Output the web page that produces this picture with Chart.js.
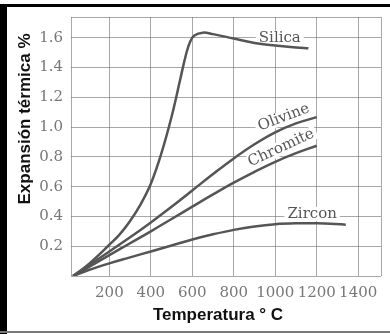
<!DOCTYPE html>
<html>
<head>
<meta charset="utf-8">
<script src="https://cdn.jsdelivr.net/npm/chart.js@4.4.0/dist/chart.umd.min.js"></script>
<style>
  html, body { margin: 0; padding: 0; background: #fff; }
  #wrap { width: 390px; height: 334px; }
</style>
</head>
<body>
<div id="wrap"><canvas id="myChart" width="390" height="334"></canvas></div>
<script>
// temperatures (°C) and expansion (%)
const silicaT = [25, 100, 200, 250, 300, 350, 400, 450, 500, 540, 570, 590, 610, 650, 700, 800, 900, 1000, 1100, 1160];
const silicaV = [0, 0.08, 0.21, 0.28, 0.37, 0.48, 0.62, 0.82, 1.07, 1.31, 1.49, 1.575, 1.615, 1.635, 1.625, 1.595, 1.565, 1.548, 1.535, 1.53];

const olivineT = [25, 100, 200, 300, 400, 500, 600, 700, 800, 900, 1000, 1100, 1200];
const olivineV = [0, 0.07, 0.165, 0.26, 0.36, 0.465, 0.575, 0.685, 0.79, 0.885, 0.965, 1.025, 1.067];

const chromiteT = [25, 100, 200, 300, 400, 500, 600, 700, 800, 900, 1000, 1100, 1200];
const chromiteV = [0, 0.06, 0.14, 0.22, 0.30, 0.383, 0.466, 0.548, 0.627, 0.70, 0.767, 0.825, 0.875];

const zirconT = [25, 100, 200, 300, 400, 500, 600, 700, 800, 900, 1000, 1100, 1200, 1340];
const zirconV = [0, 0.04, 0.085, 0.125, 0.165, 0.205, 0.245, 0.28, 0.31, 0.333, 0.348, 0.354, 0.354, 0.345];

const xTicks = [200, 400, 600, 800, 1000, 1200, 1400];
const yTicks = [0.2, 0.4, 0.6, 0.8, 1.0, 1.2, 1.4, 1.6];

// curve names and where their labels sit (data coords) + rotation in degrees
const names = ['Silica', 'Olivine', 'Chromite', 'Zircon'];
const labelT = [1022, 1041, 1028, 1178];
const labelV = [1.6, 1.065, 0.86, 0.417];
const labelRot = [0, -21, -25, 0];

const xMin = 15, xMax = 1510;
const yMin = 0, yMax = 1.74;

const pts = (t, v) => t.map((x, i) => ({ x: x, y: v[i] }));

const lineStyle = {
    borderColor: '#555',
    borderWidth: 2.5,
    pointRadius: 0,
    fill: false,
    tension: 0.4
};

const data = {
    datasets: [
        { label: names[0], data: pts(silicaT, silicaV), ...lineStyle },
        { label: names[1], data: pts(olivineT, olivineV), ...lineStyle },
        { label: names[2], data: pts(chromiteT, chromiteV), ...lineStyle },
        { label: names[3], data: pts(zirconT, zirconV), ...lineStyle }
    ]
};

const gridColor = 'rgba(110,110,110,0.6)';
const tickFont = { family: 'DejaVu Serif', size: 15 };

// label boxes cut the grid, text goes on top after the curves
function eachLabel(chart, fn) {
    const ctx = chart.ctx;
    const xs = chart.scales.x, ys = chart.scales.y;
    ctx.save();
    ctx.font = '15px "DejaVu Serif"';
    ctx.textAlign = 'center';
    ctx.textBaseline = 'middle';
    names.forEach((n, i) => {
        ctx.save();
        ctx.translate(xs.getPixelForValue(labelT[i]), ys.getPixelForValue(labelV[i]));
        ctx.rotate(labelRot[i] * Math.PI / 180);
        fn(ctx, n);
        ctx.restore();
    });
    ctx.restore();
}

const decor = {
    id: 'decor',
    beforeDraw(chart) {
        const ctx = chart.ctx;
        ctx.save();
        ctx.fillStyle = '#fff';
        ctx.fillRect(0, 0, chart.width, chart.height);
        ctx.restore();
    },
    beforeDatasetsDraw(chart) {
        eachLabel(chart, (ctx, n) => {
            const w = ctx.measureText(n).width;
            ctx.fillStyle = '#fff';
            ctx.fillRect(-w / 2 - 3, -7, w + 6, 14);
        });
    },
    afterDatasetsDraw(chart) {
        eachLabel(chart, (ctx, n) => {
            ctx.fillStyle = '#555';
            ctx.fillText(n, 0, 0);
        });
    },
    afterDraw(chart) {
        const ctx = chart.ctx;
        ctx.save();
        // axis titles
        ctx.fillStyle = '#111';
        ctx.font = 'bold 17px "Liberation Sans"';
        ctx.textAlign = 'center';
        ctx.textBaseline = 'middle';
        ctx.fillText('Temperatura ° C', 218, 315);
        ctx.save();
        ctx.translate(25, 119);
        ctx.rotate(-Math.PI / 2);
        ctx.fillText('Expansión térmica %', 0, 0);
        ctx.restore();
        // picture frame
        ctx.fillStyle = '#000';
        ctx.fillRect(0, 4, chart.width, 3);
        ctx.fillRect(0, 4, 7, chart.height - 4);
        ctx.fillStyle = '#777';
        ctx.fillRect(0, 331, chart.width, 2);
        ctx.restore();
    }
};

const config = {
    type: 'line',
    data,
    options: {
        responsive: false,
        animation: false,
        events: [],
        layout: { padding: { left: 8, right: 9, top: 15, bottom: 0 } },
        plugins: { legend: { display: false }, tooltip: { enabled: false } },
        scales: {
            x: {
                type: 'linear',
                min: xMin,
                max: xMax,
                afterBuildTicks(scale) {
                    scale.ticks = [xMin, ...xTicks, xMax].map(v => ({ value: v }));
                },
                afterFit(scale) { scale.height = 58; },
                ticks: {
                    autoSkip: false,
                    maxRotation: 0,
                    padding: 8,
                    color: '#777',
                    font: tickFont,
                    callback: v => xTicks.includes(v) ? String(v) : ''
                },
                grid: { color: gridColor, lineWidth: 1, drawTicks: false },
                border: { display: false }
            },
            y: {
                min: yMin,
                max: yMax,
                afterBuildTicks(scale) {
                    scale.ticks = [yMin, ...yTicks, yMax].map(v => ({ value: v }));
                },
                afterFit(scale) { scale.width = 63; },
                ticks: {
                    autoSkip: false,
                    padding: 8,
                    color: '#777',
                    font: tickFont,
                    callback: v => yTicks.includes(v) ? v.toFixed(1) : ''
                },
                grid: { color: gridColor, lineWidth: 1, drawTicks: false },
                border: { display: false }
            }
        }
    },
    plugins: [decor]
};

const myChart = new Chart(document.getElementById('myChart'), config);
</script>
</body>
</html>
